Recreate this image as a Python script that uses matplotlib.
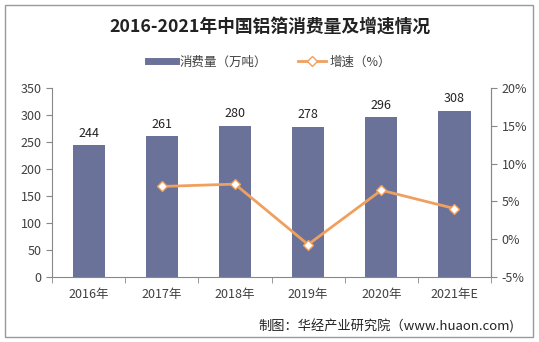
import matplotlib
matplotlib.use("Agg")
import matplotlib.pyplot as plt
from matplotlib.patches import Rectangle
from matplotlib.lines import Line2D
from matplotlib.ticker import FuncFormatter, MultipleLocator
import numpy as np

plt.rcParams["font.family"] = ["Noto Sans CJK SC", "DejaVu Sans"]

YEARS = ["2016年", "2017年", "2018年", "2019年", "2020年", "2021年E"]
CONSUMPTION = [244, 261, 280, 278, 296, 308]
GROWTH_YEARS = [1, 2, 3, 4, 5]
GROWTH = [6.97, 7.28, -0.71, 6.47, 4.05]

BAR_COLOR = "#6b7299"
LINE_COLOR = "#f0a05e"
TEXT_COLOR = "#404040"

fig = plt.figure(figsize=(5.39, 3.42), dpi=100)
ax = fig.add_axes([0.0965, 0.19, 0.8145, 0.553])

x = np.arange(len(YEARS))
bars = ax.bar(x, CONSUMPTION, width=0.44, color=BAR_COLOR, zorder=2)
for xi, v in zip(x, CONSUMPTION):
    ax.text(xi, v + 10, str(v), ha="center", va="bottom", fontsize=9, color="#222222")

ax.set_xlim(-0.5, len(YEARS) - 0.5)
ax.set_ylim(0, 350)
ax.yaxis.set_major_locator(MultipleLocator(50))
ax.set_xticks(x)
ax.set_xticklabels(YEARS)
ax.set_xticks(np.arange(-0.5, len(YEARS)), minor=True)
ax.tick_params(axis="x", which="major", length=0, pad=8, labelsize=9, labelcolor=TEXT_COLOR)
ax.tick_params(axis="x", which="minor", length=4, color="#888888")
ax.tick_params(axis="y", length=4, color="#888888", labelsize=9, labelcolor=TEXT_COLOR)
ax.spines["top"].set_visible(False)
for s in ["left", "bottom", "right"]:
    ax.spines[s].set_color("#888888")

ax2 = ax.twinx()
ax2.plot(GROWTH_YEARS, GROWTH, color=LINE_COLOR, lw=2, marker="D", ms=5,
         mfc="white", mec=LINE_COLOR, mew=1, zorder=3)
ax2.set_ylim(-5, 20)
ax2.yaxis.set_major_locator(MultipleLocator(5))
ax2.yaxis.set_major_formatter(FuncFormatter(lambda v, p: f"{v:.0f}%"))
ax2.tick_params(axis="y", length=4, color="#888888", labelsize=9, labelcolor=TEXT_COLOR)
ax2.spines["top"].set_visible(False)
ax2.spines["right"].set_color("#888888")
ax2.spines["left"].set_visible(False)
ax2.spines["bottom"].set_visible(False)

fig.text(0.5, 0.922, "2016-2021年中国铝箔消费量及增速情况", ha="center", va="center",
         fontsize=12.8, fontweight="bold", color="#222222")

handles = [
    Line2D([0], [0], color=BAR_COLOR, lw=5),
    Line2D([0], [0], color=LINE_COLOR, lw=2, marker="D", ms=5, mfc="white", mec=LINE_COLOR),
]
fig.legend(handles, ["消费量（万吨）", "增速（%）"], loc="center", bbox_to_anchor=(0.5, 0.818),
           ncol=2, frameon=False, fontsize=9, handlelength=2.2, columnspacing=2.5,
           handletextpad=0.3, labelcolor=TEXT_COLOR)

fig.text(0.955, 0.045, "制图：华经产业研究院（www.huaon.com)", ha="right", va="center",
         fontsize=9.5, color="#222222")

fig.patches.append(Rectangle((0.009, 0.015), 0.979, 0.97, transform=fig.transFigure,
                             fill=False, edgecolor="#999999", lw=1))

fig.savefig("out.png", dpi=100)
